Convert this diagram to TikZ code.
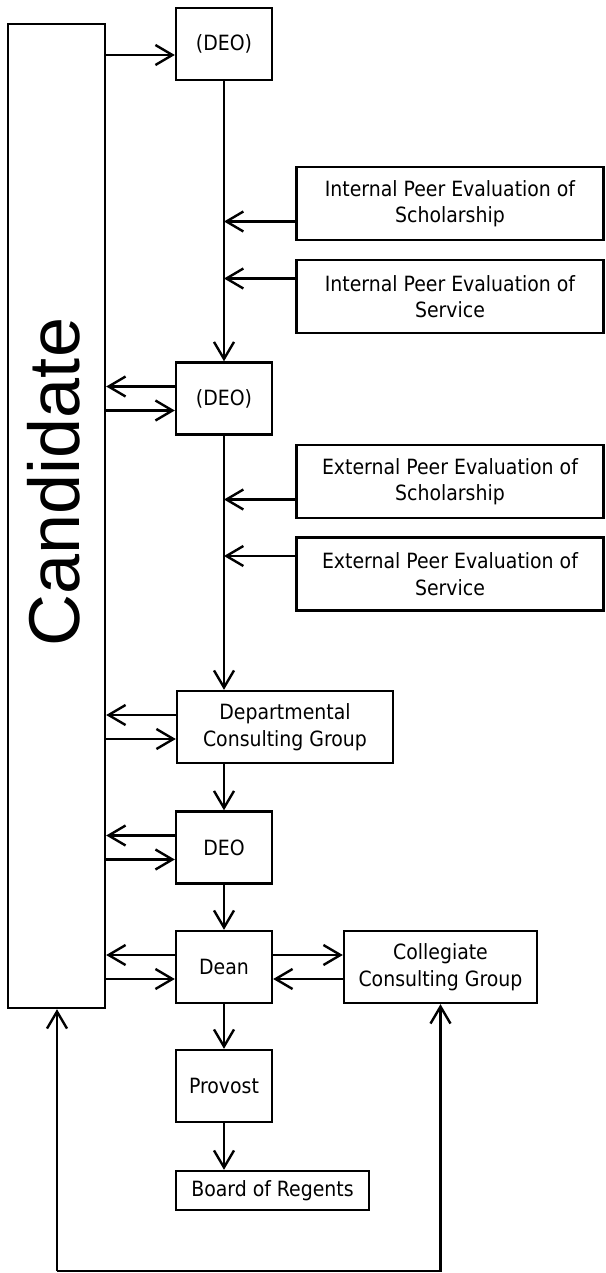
\documentclass[tikz,border=0pt]{standalone}
\usepackage{fontspec}
\setmainfont{DejaVu Sans Condensed}
\newfontfamily\bigsans{Liberation Sans}
\usetikzlibrary{arrows.meta}

\begin{document}
\begin{tikzpicture}[x=1pt,y=-1pt,line width=2.4pt,
        >={Straight Barb[length=17pt,width=20pt,line width=2.4pt]},
        every node/.style={draw,align=center,inner sep=0pt,
            font=\fontsize{21}{26.5}\selectfont},
        small/.style={minimum width=96pt,minimum height=72pt},
        peer/.style={minimum width=307pt,minimum height=73pt}]
    \useasboundingbox (0,0) rectangle (605,1273);

    \node (cand) [minimum width=97pt,minimum height=984pt] at (56.5,516) {};
    \node [draw=none,rotate=90,font=\bigsans\fontsize{72}{80}\selectfont]
        (candtext) at (54,482) {Candidate};

    \node (deoA) [small] at (224,44) {(DEO)};
    \node (ipsch) [peer] at (450,203.5) {Internal Peer Evaluation of\\Scholarship};
    \node (ipser) [peer] at (450,296.5) {Internal Peer Evaluation of\\Service};
    \node (deoB) [small] at (224,398.5) {(DEO)};
    \node (epsch) [peer] at (450,481.5) {External Peer Evaluation of\\Scholarship};
    \node (epser) [peer] at (450,574) {External Peer Evaluation of\\Service};
    \node (dcg) [minimum width=216pt,minimum height=72pt] at (285,727)
        {Departmental\\Consulting Group};
    \node (deoC) [small] at (224,847.5) {DEO};
    \node (dean) [small] at (224,967) {Dean};
    \node (coll) [minimum width=193pt,minimum height=72pt] at (440.5,967)
        {Collegiate\\Consulting Group};
    \node (prov) [small] at (224,1086) {Provost};
    \node (board) [minimum width=193pt,minimum height=39pt] at (272.5,1190.5)
        {Board of Regents};

    \coordinate (bl) at (57,1271);
    \coordinate (br) at (coll.south |- bl);

    % down the middle
    \draw[->] (deoA.south) -- (deoB.north);
    \draw[->] (deoB.south) -- (deoB.south |- dcg.north);
    \draw[->] (deoC.north |- dcg.south) -- (deoC.north);
    \draw[->] (deoC.south) -- (dean.north);
    \draw[->] (dean.south) -- (prov.north);
    \draw[->] (prov.south) -- (prov.south |- board.north);

    % peer evaluations
    \foreach \p/\d in {ipsch/-18,ipser/18,epsch/-18,epser/18}
        \draw[->] ([yshift=\d pt]\p.west) -- ([yshift=\d pt]\p.west -| deoA.south);

    % to and from the candidate
    \draw[->] ([yshift=-11pt]deoA.west -| cand.east) -- ([yshift=-11pt]deoA.west);
    \foreach \b in {deoB,dcg,deoC,dean} {
        \draw[->] ([yshift=12pt]\b.west) -- ([yshift=12pt]\b.west -| cand.east);
        \draw[->] ([yshift=-12pt]\b.west -| cand.east) -- ([yshift=-12pt]\b.west);
    }

    % dean and collegiate group
    \draw[->] ([yshift=12pt]dean.east) -- ([yshift=12pt]coll.west);
    \draw[->] ([yshift=-12pt]coll.west) -- ([yshift=-12pt]dean.east);

    % back up
    \draw[->] (bl) -- (bl |- cand.south);
    \draw[->] (bl) -- (br) -- (coll.south);
\end{tikzpicture}
\end{document}
